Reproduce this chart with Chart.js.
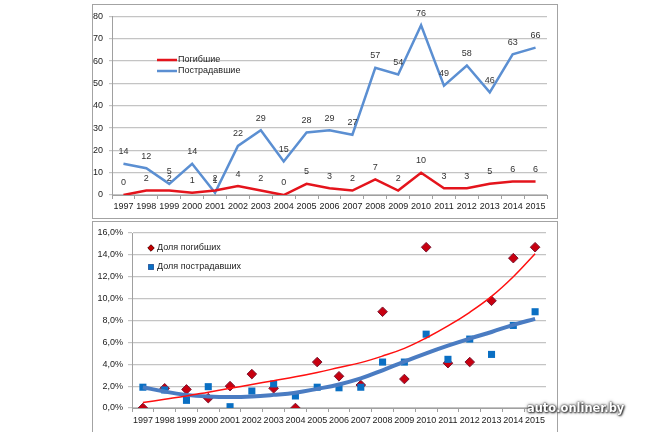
<!DOCTYPE html>
<html>
<head>
<meta charset="utf-8">
<script src="https://cdn.jsdelivr.net/npm/chart.js@4.4.0/dist/chart.umd.min.js"></script>
<style>
body{margin:0;background:#fff;width:648px;height:432px;overflow:hidden;position:relative;font-family:"Liberation Sans",Arial,sans-serif}
.box{position:absolute;border:1px solid #a3a3a3;background:#fff}
#box1{left:92px;top:4px;width:464px;height:213px}
#box2{left:92px;top:221px;width:464px;height:220px}
.wrap{position:absolute}
#w1{left:93px;top:5px;width:463px;height:212px}
#w2{left:93px;top:222px;width:463px;height:210px}
#mark{position:absolute;left:527px;top:400px;font:bold 13px "DejaVu Sans",sans-serif;color:#fff;
  text-shadow:0 0 2px #222,1px 1px 2px #333,0 0 4px #555;transform:scaleX(0.88);transform-origin:0 0;white-space:nowrap}
</style>
</head>
<body>
<div class="box" id="box1"></div>
<div class="box" id="box2"></div>
<div class="wrap" id="w1"><canvas id="topChart"></canvas></div>
<div class="wrap" id="w2"><canvas id="shareChart"></canvas></div>
<div id="mark">auto.onliner.by</div>
<script>
// ═══════════ DATA ═══════════
const years=['1997','1998','1999','2000','2001','2002','2003','2004','2005','2006','2007','2008','2009','2010','2011','2012','2013','2014','2015'];
const killed=[0,2,2,1,2,4,2,0,5,3,2,7,2,10,3,3,5,6,6];
const injured=[14,12,5,14,1,22,29,15,28,29,27,57,54,76,49,58,46,63,66];
// shares, %
const killedShare=[0,1.8,1.7,0.9,2.0,3.1,1.8,0,4.2,2.9,2.1,8.8,2.65,14.7,4.1,4.2,9.8,13.7,14.7];
const injuredShare=[1.9,1.65,0.7,1.95,0.12,1.55,2.2,1.1,1.9,1.85,1.9,4.2,4.2,6.75,4.45,6.3,4.9,7.55,8.8];
// trend lines, %
const killedTrend=[0.5,0.8,1.1,1.45,1.8,2.15,2.5,2.85,3.25,3.7,4.15,4.75,5.45,6.4,7.5,8.75,10.2,12.0,14.1];
const injuredTrend=[1.9,1.5,1.2,1.05,1.0,1.05,1.2,1.4,1.75,2.15,2.7,3.45,4.25,5.0,5.7,6.35,6.95,7.6,8.15];

const FONT='"Liberation Sans", Arial, sans-serif';
Chart.defaults.font.family=FONT;
Chart.defaults.font.size=9;
Chart.defaults.color='#222';

const RED='#e4141c', BLUE='#5b8fd2';
const gridGray='#c4c4c4', axisGray='#a0a0a0';

// value labels + legend for the top chart
const topExtras={id:'topExtras',afterDatasetsDraw(chart){
  const ctx=chart.ctx;
  ctx.save();
  ctx.font='9px '+FONT;ctx.fillStyle='#333';ctx.textAlign='center';ctx.textBaseline='middle';
  chart.data.datasets.forEach((ds,i)=>{
    chart.getDatasetMeta(i).data.forEach((pt,j)=>ctx.fillText(ds.data[j],pt.x,pt.y-12));
  });
  // legend
  const items=[['Погибшие',RED,55],['Пострадавшие',BLUE,66]];
  ctx.textAlign='left';ctx.fillStyle='#222';
  items.forEach(([txt,col,y])=>{
    ctx.strokeStyle=col;ctx.lineWidth=2.5;
    ctx.beginPath();ctx.moveTo(64,y);ctx.lineTo(84,y);ctx.stroke();
    ctx.fillText(txt,85,y);
  });
  ctx.restore();
}};

new Chart(document.getElementById('topChart'),{
  type:'line',
  data:{
    labels:years,
    datasets:[
      {label:'Погибшие',data:killed,borderColor:RED,borderWidth:2.5,pointRadius:0,tension:0},
      {label:'Пострадавшие',data:injured,borderColor:BLUE,borderWidth:2.5,pointRadius:0,tension:0}
    ]
  },
  options:{
    responsive:true,maintainAspectRatio:false,animation:false,
    layout:{padding:{top:10,right:9,left:0,bottom:0}},
    plugins:{legend:{display:false},tooltip:{enabled:false}},
    scales:{
      x:{offset:true,
        grid:{offset:true,drawOnChartArea:false,tickLength:4,color:axisGray},
        border:{color:axisGray},
        ticks:{maxRotation:0,autoSkip:false,padding:2},
        afterFit:s=>{s.height=22}},
      y:{min:0,max:80,
        ticks:{stepSize:10,padding:6},
        grid:{color:gridGray,tickLength:3,lineWidth:1.2},
        border:{color:axisGray},
        afterFit:s=>{s.width=19}}
    }
  },
  plugins:[topExtras]
});

// legend for the share chart
const shareLegend={id:'shareLegend',afterDraw(chart){
  const ctx=chart.ctx;
  ctx.save();
  ctx.font='9px '+FONT;ctx.fillStyle='#222';ctx.textAlign='left';ctx.textBaseline='middle';
  Chart.helpers.drawPoint(ctx,{pointStyle:'rectRot',radius:3.2,borderWidth:1},58,26);
  ctx.fillStyle='#c00000';ctx.fill();
  Chart.helpers.drawPoint(ctx,{pointStyle:'rect',radius:4,borderWidth:0},58,45);
  ctx.fillStyle='#0a6fc3';ctx.fill();
  ctx.fillStyle='#222';
  ctx.fillText('Доля погибших',64,26);
  ctx.fillText('Доля пострадавших',64,45);
  ctx.restore();
}};

const pct=v=>v.toFixed(1).replace('.',',')+'%';

new Chart(document.getElementById('shareChart'),{
  type:'line',
  data:{
    labels:years,
    datasets:[
      {label:'trend killed',data:killedTrend,borderColor:'#ff1010',borderWidth:1.5,pointRadius:0,tension:0.4},
      {label:'trend injured',data:injuredTrend,borderColor:'#4a7cc2',borderWidth:4,pointRadius:0,tension:0.4},
      {label:'Доля пострадавших',data:injuredShare,showLine:false,pointStyle:'rect',pointRadius:5,
        backgroundColor:'#0a6fc3',borderColor:'#0a6fc3',borderWidth:0},
      {label:'Доля погибших',data:killedShare,showLine:false,pointStyle:'rectRot',pointRadius:4.8,
        backgroundColor:'#c80010',borderColor:'#7a1530',borderWidth:1}
    ]
  },
  options:{
    responsive:true,maintainAspectRatio:false,animation:false,
    layout:{padding:{top:11,right:10,left:0,bottom:0}},
    plugins:{legend:{display:false},tooltip:{enabled:false}},
    scales:{
      x:{offset:true,
        grid:{offset:true,drawOnChartArea:false,tickLength:4,color:axisGray},
        border:{color:axisGray},
        ticks:{maxRotation:0,autoSkip:false,padding:3},
        afterFit:s=>{s.height=24}},
      y:{min:0,max:16,
        ticks:{stepSize:2,padding:5,callback:v=>pct(v)},
        grid:{color:gridGray,tickLength:4,lineWidth:1.2},
        border:{color:axisGray},
        afterFit:s=>{s.width=39}}
    }
  },
  plugins:[shareLegend]
});
</script>
</body>
</html>
